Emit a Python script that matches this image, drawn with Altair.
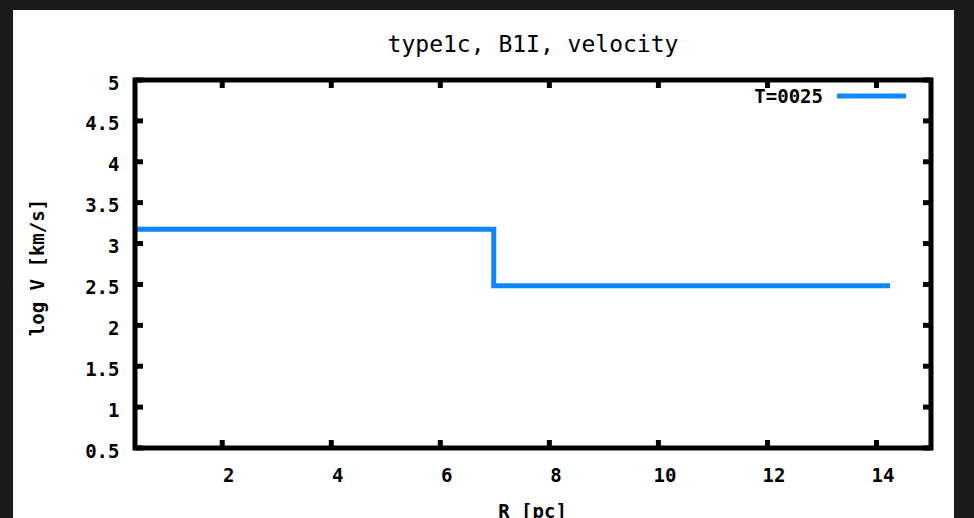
import altair as alt
import pandas as pd

# ---- data ----
title_text = "type1c, B1I, velocity"
series_name = "T=0025"
x_title = "R [pc]"
y_title = "log V [km/s]"
R = [0.4, 6.98, 14.25]
logV = [3.175, 2.484, 2.484]
x_ticks = [2, 4, 6, 8, 10, 12, 14]
y_ticks = [0.5, 1, 1.5, 2, 2.5, 3, 3.5, 4, 4.5, 5]
x_domain = [0.4, 15]
y_domain = [0.5, 5]

# ---- layout / style ----
W, H = 796, 368
PAD_L, PAD_T = 135, 80
PAD_R, PAD_B = 974 - PAD_L - W, 518 - PAD_T - H
FONT = "DejaVu Sans Mono"
BLUE = "#0d86ff"
TICK = 8
LBL = 19

line_df = pd.DataFrame({"R": R, "logV": logV, "series": [series_name] * len(R)})
xt_df = pd.DataFrame({"R": x_ticks})
yt_df = pd.DataFrame({"logV": y_ticks})
one = pd.DataFrame({"series": [series_name], "title": [title_text]})

xs = alt.Scale(domain=x_domain, nice=False, zero=False)
ys = alt.Scale(domain=y_domain, nice=False, zero=False)

# white panel behind everything (the outer frame of the picture is dark)
panel = alt.Chart(one).mark_rect(fill="white", stroke=None).encode(
    x=alt.value(13 - PAD_L), x2=alt.value(954 - PAD_L),
    y=alt.value(10 - PAD_T), y2=alt.value(518 - PAD_T + 10),
)

xaxis = alt.Axis(
    values=x_ticks, format="~g", domain=False, ticks=False, grid=False,
    labelFont=FONT, labelFontSize=LBL, labelFontWeight="bold", labelColor="black",
    labelPadding=18, labelOffset=6, labelFlush=False,
    title=x_title, titleFont=FONT, titleFontSize=LBL, titleFontWeight="bold",
    titleColor="black", titleX=W / 2 - 1, titleY=63, titleBaseline="middle",
    titleAlign="center", zindex=1,
)
yaxis = alt.Axis(
    values=y_ticks, format="~g", domain=False, ticks=False, grid=False,
    labelFont=FONT, labelFontSize=LBL, labelFontWeight="bold", labelColor="black",
    labelPadding=16, labelOffset=3, labelFlush=False,
    title=y_title, titleFont=FONT, titleFontSize=LBL, titleFontWeight="bold",
    titleColor="black", titleX=37 - PAD_L, titleY=H / 2 + 3, titleAngle=-90,
    titleBaseline="middle", titleAlign="center", zindex=1,
)

line = alt.Chart(line_df).mark_line(
    interpolate="step-after", strokeWidth=5, color=BLUE, strokeCap="butt",
    strokeJoin="miter",
).encode(
    x=alt.X("R:Q", scale=xs, axis=xaxis),
    y=alt.Y("logV:Q", scale=ys, axis=yaxis),
)

tick_style = dict(color="black", strokeWidth=5)
bot_ticks = alt.Chart(xt_df).mark_rule(**tick_style).encode(
    x=alt.X("R:Q", scale=xs), y=alt.value(H), y2=alt.value(H - TICK))
top_ticks = alt.Chart(xt_df).mark_rule(**tick_style).encode(
    x=alt.X("R:Q", scale=xs), y=alt.value(0), y2=alt.value(TICK))
left_ticks = alt.Chart(yt_df).mark_rule(**tick_style).encode(
    y=alt.Y("logV:Q", scale=ys), x=alt.value(0), x2=alt.value(TICK))
right_ticks = alt.Chart(yt_df).mark_rule(**tick_style).encode(
    y=alt.Y("logV:Q", scale=ys), x=alt.value(W - TICK), x2=alt.value(W))

frame = alt.Chart(one).mark_rect(fill=None, stroke="black", strokeWidth=5).encode(
    x=alt.value(0), x2=alt.value(W), y=alt.value(0), y2=alt.value(H))

# chart title
title = alt.Chart(one).mark_text(
    align="center", baseline="middle", font=FONT, fontSize=23, fontWeight="normal",
    color="black",
).encode(text="title:N", x=alt.value(533 - PAD_L), y=alt.value(45 - PAD_T))

# legend (label on the left, sample line on the right, as in the reference)
leg_text = alt.Chart(one).mark_text(
    align="right", baseline="middle", font=FONT, fontSize=LBL, fontWeight="bold",
    color="black",
).encode(text="series:N", x=alt.value(823 - PAD_L), y=alt.value(97 - PAD_T))
leg_line = alt.Chart(one).mark_rule(color=BLUE, strokeWidth=5).encode(
    x=alt.value(837 - PAD_L), x2=alt.value(906 - PAD_L), y=alt.value(96 - PAD_T))

chart = alt.layer(
    panel, line, bot_ticks, top_ticks, left_ticks, right_ticks, frame,
    title, leg_text, leg_line,
).properties(
    width=W, height=H,
    autosize=alt.AutoSizeParams(type="none"),
    padding={"left": PAD_L, "top": PAD_T, "right": PAD_R, "bottom": PAD_B},
    background="#1b1b1b",
).configure_view(stroke=None)

chart.save("out.html", embed_options={"renderer": "svg", "actions": False})
